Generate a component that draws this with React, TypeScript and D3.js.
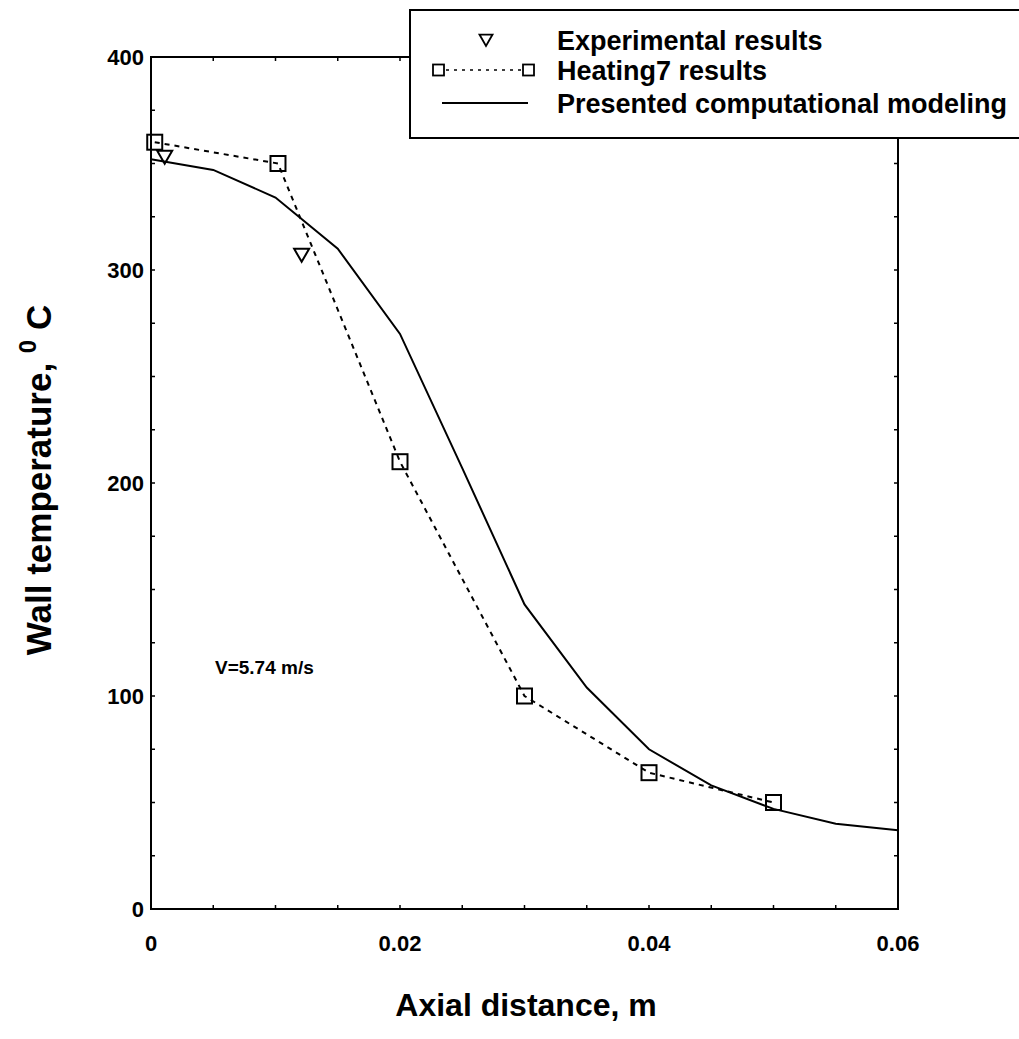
import React from "react";
import * as d3 from "d3";

const expX = [0.0011, 0.0121];
const expY = [353, 307];

const heatX = [0.0003, 0.0102, 0.02, 0.03, 0.04, 0.05];
const heatY = [360, 350, 210, 100, 64, 50];

const modelX = [0, 0.005, 0.01, 0.015, 0.02, 0.025, 0.03, 0.035, 0.04, 0.045, 0.05, 0.055, 0.06];
const modelY = [352, 347, 334, 310, 270, 207, 143, 104, 75, 58, 47, 40, 37];

const xTicks = [0, 0.02, 0.04, 0.06];
const xTickLabels = ["0", "0.02", "0.04", "0.06"];
const yTicks = [0, 100, 200, 300, 400];
const yTickLabels = ["0", "100", "200", "300", "400"];
const xMinor = d3.range(0, 0.0601, 0.005);
const yMinor = d3.range(0, 401, 25);

const legendLabels = ["Experimental results", "Heating7 results", "Presented computational modeling"];

const L = 151, R = 898, T = 57, B = 909;
const FONT = "'Liberation Sans', Arial, Helvetica, sans-serif";

export default function App() {
  const x = d3.scaleLinear().domain([0, 0.06]).range([L, R]);
  const y = d3.scaleLinear().domain([0, 400]).range([B, T]);
  const lineGen = d3.line<[number, number]>().x(d => x(d[0])).y(d => y(d[1]));
  const modelPath = lineGen(modelX.map((v, i) => [v, modelY[i]]));
  const heatPath = lineGen(heatX.map((v, i) => [v, heatY[i]]));

  const tri = (cx: number, cy: number, s: number) =>
    `M${cx - s / 2},${cy - s * 0.42} L${cx + s / 2},${cy - s * 0.42} L${cx},${cy + s * 0.45} Z`;

  const legX = 410, legY = 10, legW = 620, legH = 128;
  const rows = [40, 70, 103];

  return (
    <svg width={1019} height={1039} style={{ position: "absolute", left: 0, top: 0, background: "#fff" }}>
      <rect x={0} y={0} width={1019} height={1039} fill="#fff" />
      {/* frame */}
      <rect x={L} y={T} width={R - L} height={B - T} fill="none" stroke="#000" strokeWidth={2} />
      {/* minor ticks */}
      {xMinor.map((t, i) => (
        <g key={"xm" + i}>
          <line x1={x(t)} x2={x(t)} y1={B} y2={B - 4} stroke="#000" strokeWidth={1.5} />
          <line x1={x(t)} x2={x(t)} y1={T} y2={T + 4} stroke="#000" strokeWidth={1.5} />
        </g>
      ))}
      {yMinor.map((t, i) => (
        <g key={"ym" + i}>
          <line x1={L} x2={L + 4} y1={y(t)} y2={y(t)} stroke="#000" strokeWidth={1.5} />
          <line x1={R} x2={R - 4} y1={y(t)} y2={y(t)} stroke="#000" strokeWidth={1.5} />
        </g>
      ))}
      {/* tick labels */}
      {xTicks.map((t, i) => (
        <text key={"xt" + i} x={x(t)} y={B + 42} textAnchor="middle" fontFamily={FONT} fontWeight="bold" fontSize={22}>
          {xTickLabels[i]}
        </text>
      ))}
      {yTicks.map((t, i) => (
        <text key={"yt" + i} x={L - 7} y={y(t) + 8} textAnchor="end" fontFamily={FONT} fontWeight="bold" fontSize={22}>
          {yTickLabels[i]}
        </text>
      ))}
      {/* series */}
      <path d={modelPath || ""} fill="none" stroke="#000" strokeWidth={2} />
      <path d={heatPath || ""} fill="none" stroke="#000" strokeWidth={2} strokeDasharray="5,5" />
      {heatX.map((v, i) => (
        <rect key={"h" + i} x={x(v) - 7.5} y={y(heatY[i]) - 7.5} width={15} height={15} fill="none" stroke="#000" strokeWidth={2} />
      ))}
      {expX.map((v, i) => (
        <path key={"e" + i} d={tri(x(v), y(expY[i]), 15)} fill="none" stroke="#000" strokeWidth={2} />
      ))}
      {/* annotation */}
      <text x={215} y={674} fontFamily={FONT} fontSize={19} fontWeight="bold">V=5.74 m/s</text>
      {/* legend */}
      <rect x={legX} y={legY} width={legW} height={legH} fill="#fff" stroke="#000" strokeWidth={2} />
      <path d={tri(486, rows[0], 13)} fill="none" stroke="#000" strokeWidth={1.8} />
      <line x1={438} x2={528} y1={rows[1]} y2={rows[1]} stroke="#000" strokeWidth={1.5} strokeDasharray="3,5" />
      <rect x={433} y={rows[1] - 5.5} width={11} height={11} fill="#fff" stroke="#000" strokeWidth={1.8} />
      <rect x={523} y={rows[1] - 5.5} width={11} height={11} fill="#fff" stroke="#000" strokeWidth={1.8} />
      <line x1={442} x2={528} y1={rows[2]} y2={rows[2]} stroke="#000" strokeWidth={2} />
      {legendLabels.map((s, i) => (
        <text key={"l" + i} x={557} y={rows[i] + 10} fontFamily={FONT} fontSize={27} fontWeight="bold">{s}</text>
      ))}
      {/* axis titles */}
      <text transform={`translate(51, 480) rotate(-90)`} textAnchor="middle" fontFamily={FONT} fontWeight="bold" fontSize={35}>
        Wall temperature, <tspan dy={-15} fontSize={24}>0</tspan><tspan dy={15}> C</tspan>
      </text>
      <text x={526} y={1016} textAnchor="middle" fontFamily={FONT} fontWeight="bold" fontSize={32}>Axial distance, m</text>
    </svg>
  );
}
